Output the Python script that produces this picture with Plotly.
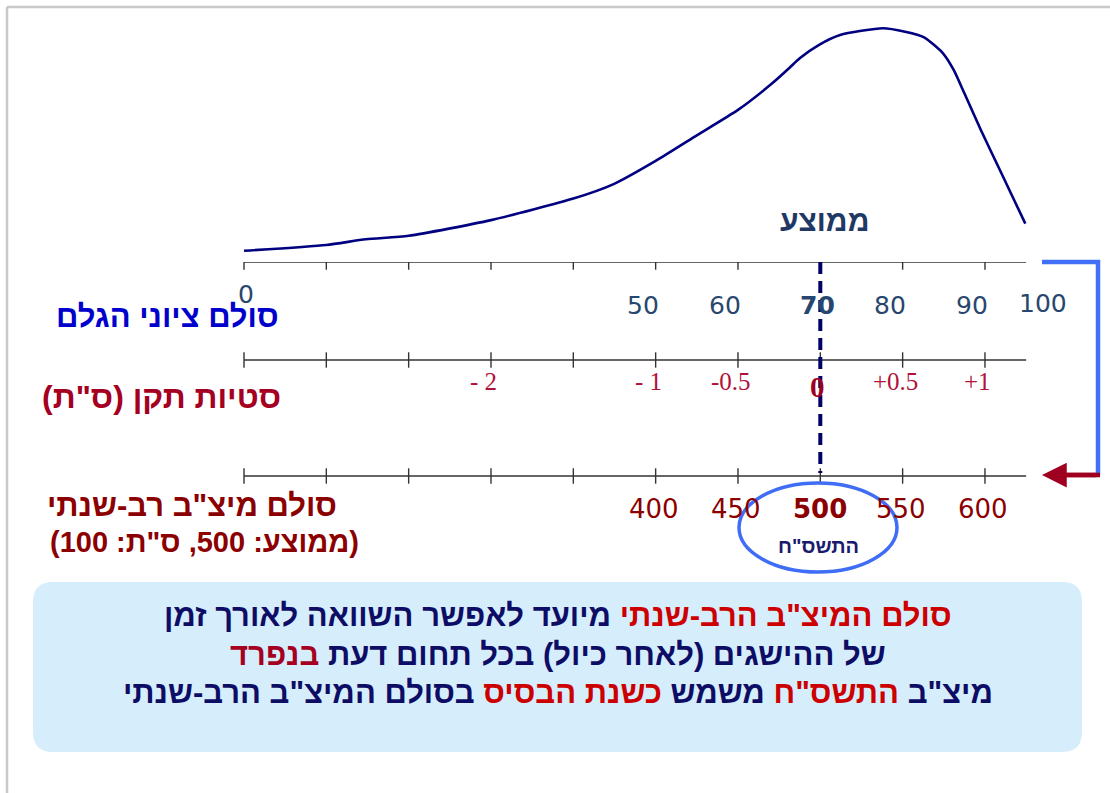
import plotly.graph_objects as go

W, H = 1110, 793

# ---------------- data ----------------
# position along the diagram's scale (tick index) and relative frequency of the score distribution
curve_pos = [0, 1.0, 1.48, 2.0, 3.0, 4.0, 4.49, 5.0, 5.47, 6.0, 6.39, 6.62, 6.75, 6.98,
             7.24, 7.76, 8.03, 8.26, 8.49, 8.62, 8.75, 8.95, 9.21, 9.49]
curve_freq = [0.048, 0.073, 0.097, 0.112, 0.179, 0.271, 0.333, 0.432, 0.535, 0.650, 0.756,
              0.828, 0.871, 0.927, 0.970, 0.999, 0.984, 0.960, 0.892, 0.821, 0.721, 0.564,
              0.372, 0.164]
tick_pos = [0, 1, 2, 3, 4, 5, 6, 7, 8, 9]
axis_end = 9.5
mean_pos = 7

raw_pos = [0, 5, 6, 7, 8, 9, 9.7]
raw_labels = ["0", "50", "60", "70", "80", "90", "100"]
sd_pos = [3, 5, 6, 7, 8, 9]
sd_labels = ["- 2", "- 1", "-0.5", "0", "+0.5", "+1"]
mz_pos = [5, 6, 7, 8, 9]
mz_labels = ["400", "450", "500", "550", "600"]

# ---------------- layout helpers ----------------
X_ORIGIN, X_STEP = 244, 82.33
XR = [-X_ORIGIN / X_STEP, (W - X_ORIGIN) / X_STEP]
RAW_ROW, SD_ROW, MZ_ROW = 262, 360, 476
RLM = "\u200f"


def fx(px):
    return px / W


def fy(py):
    return 1 - py / H


HEB = "Liberation Sans, DejaVu Sans, sans-serif"
NUM = "DejaVu Sans, Verdana, sans-serif"
SERIF = "Liberation Serif, Times New Roman, serif"

fig = go.Figure()

# distribution curve
fig.add_trace(go.Scatter(x=curve_pos, y=curve_freq, yaxis="y2", mode="lines",
                         line=dict(color="#000080", width=2.6, shape="spline", smoothing=0.6),
                         hoverinfo="skip"))

# three scales: lines + tick marks
for row in (RAW_ROW, SD_ROW, MZ_ROW):
    fig.add_trace(go.Scatter(x=[tick_pos[0], axis_end], y=[row, row], mode="lines",
                             line=dict(color="#333333", width=1.6), hoverinfo="skip"))
    fig.add_trace(go.Scatter(x=tick_pos, y=[row] * len(tick_pos), mode="markers",
                             marker=dict(symbol="line-ns", size=11,
                                         line=dict(color="#333333", width=1.4)),
                             hoverinfo="skip"))

# mean dashed line
fig.add_trace(go.Scatter(x=[mean_pos, mean_pos], y=[RAW_ROW, MZ_ROW - 3], mode="lines",
                         line=dict(color="#000066", width=4, dash="12px,7px"),
                         hoverinfo="skip"))

ann = []

# raw score labels
for p, lab in zip(raw_pos, raw_labels):
    if lab == "0":
        ann.append(dict(x=p, y=294, text=lab, xshift=2))
    elif lab == "100":
        ann.append(dict(x=p, y=303, text=lab))
    elif p == mean_pos:
        ann.append(dict(x=p, y=305, text="<b>" + lab + "</b>", xshift=-3))
    else:
        ann.append(dict(x=p, y=305, text=lab, xshift=-13))
for a in ann:
    a.update(font=dict(family=NUM, size=25, color="#28476E"))

# SD labels
for p, lab in zip(sd_pos, sd_labels):
    if p == mean_pos:
        ann.append(dict(x=p, y=387, text="<b>" + lab + "</b>", xshift=-3,
                        font=dict(family=SERIF, size=29, color="#A00020")))
    else:
        ann.append(dict(x=p, y=381, text=lab, xshift=-7,
                        font=dict(family=SERIF, size=25, color="#B0123A")))

# Meitzav scale labels
for p, lab in zip(mz_pos, mz_labels):
    if p == mean_pos:
        ann.append(dict(x=p, y=509, text="<b>" + lab + "</b>",
                        font=dict(family=NUM, size=26, color="#8B0000")))
    else:
        ann.append(dict(x=p, y=509, text=lab, xshift=-2,
                        font=dict(family=NUM, size=26, color="#8B0000")))

for a in ann:
    a.update(xref="x", yref="y", showarrow=False, xanchor="center", yanchor="middle")


def label(px, py, text, size, color, family=HEB):
    return dict(x=fx(px), y=fy(py), xref="paper", yref="paper", showarrow=False,
                xanchor="center", yanchor="middle",
                text=RLM + text + RLM, font=dict(family=family, size=size, color=color))


# mean label
ann.append(label(824, 220, "<b>ממוצע</b>", 30, "#1F3864"))
# left labels
ann.append(label(167, 316, "<b>סולם ציוני הגלם</b>", 31, "#0000CC"))
ann.append(label(161, 397, '<b>סטיות תקן (ס"ת)</b>', 32, "#A50021"))
ann.append(label(192, 505, '<b>סולם מיצ"ב רב-שנתי</b>', 31, "#8B0000"))
ann.append(label(204, 542, '<b>(ממוצע: 500, ס"ת: 100)</b>', 29, "#8B0000"))
# ellipse text
ann.append(label(818, 546, '<b>התשס"ח</b>', 20, "#1A1A6E"))

# box text
RED = "#CC0000"
DRED = "#A50021"
NAVY = "#0D0D66"
box_lines = [
    '<span style="color:%s">סולם המיצ"ב הרב-שנתי</span> מיועד לאפשר השוואה לאורך זמן' % RED,
    'של ההישגים (לאחר כיול) בכל תחום דעת <span style="color:%s">בנפרד</span>' % DRED,
    'מיצ"ב <span style="color:%s">התשס"ח</span> משמש <span style="color:%s">כשנת הבסיס</span> בסולם המיצ"ב הרב-שנתי' % (RED, RED),
]
for line, yy in zip(box_lines, [615, 654, 692]):
    ann.append(label(558, yy, "<b>" + line + "</b>", 31, NAVY))

# right bracket arrow head
ann.append(dict(x=fx(1042), y=fy(475), xref="paper", yref="paper", text="", showarrow=True,
                ax=56, ay=0, arrowhead=2, arrowsize=1.1, arrowwidth=4.5, arrowcolor="#A00020",
                standoff=0))

# ---------------- shapes ----------------
shapes = []
# frame borders
shapes.append(dict(type="line", xref="paper", yref="paper", x0=fx(7), y0=fy(7), x1=1, y1=fy(7),
                   line=dict(color="#C8C8C8", width=2.5)))
shapes.append(dict(type="line", xref="paper", yref="paper", x0=fx(7), y0=fy(7), x1=fx(7), y1=0,
                   line=dict(color="#C8C8C8", width=2.5)))

# rounded info box
bx0, bx1, by0, by1, r = 33, 1082, 582, 752, 20
pts = [
    ("M", bx0 + r, by0), ("L", bx1 - r, by0), ("Q", bx1, by0, bx1, by0 + r),
    ("L", bx1, by1 - r), ("Q", bx1, by1, bx1 - r, by1), ("L", bx0 + r, by1),
    ("Q", bx0, by1, bx0, by1 - r), ("L", bx0, by0 + r), ("Q", bx0, by0, bx0 + r, by0),
]
path = ""
for seg in pts:
    cmd = seg[0]
    coords = seg[1:]
    parts = []
    for i in range(0, len(coords), 2):
        parts.append("%.5f,%.5f" % (fx(coords[i]), fy(coords[i + 1])))
    path += cmd + " " + " ".join(parts) + " "
path += "Z"
shapes.append(dict(type="path", xref="paper", yref="paper", path=path,
                   fillcolor="#D6EDFC", line=dict(width=0), layer="below"))

# ellipse around 500
shapes.append(dict(type="circle", xref="paper", yref="paper", x0=fx(739), x1=fx(897),
                   y0=fy(572), y1=fy(483), line=dict(color="#3F6DF5", width=3.5)))

# blue bracket
shapes.append(dict(type="path", xref="paper", yref="paper",
                   path="M %.5f,%.5f L %.5f,%.5f L %.5f,%.5f" % (fx(1042), fy(262), fx(1098), fy(262),
                                                                  fx(1098), fy(475)),
                   line=dict(color="#4170F7", width=4.5)))
# red arrow shaft
shapes.append(dict(type="line", xref="paper", yref="paper", x0=fx(1100), y0=fy(475),
                   x1=fx(1056), y1=fy(475), line=dict(color="#A00020", width=4.5)))

fig.update_layout(
    width=W, height=H, margin=dict(l=0, r=0, t=0, b=0),
    paper_bgcolor="white", plot_bgcolor="white", showlegend=False,
    xaxis=dict(range=XR, visible=False, fixedrange=True),
    yaxis=dict(range=[H, 0], visible=False, fixedrange=True, domain=[0, 1]),
    yaxis2=dict(range=[0, RAW_ROW / 234], visible=False, fixedrange=True,
                domain=[fy(RAW_ROW), 1], anchor="x"),
    annotations=ann, shapes=shapes,
)

fig.write_html("out.html", config={"displayModeBar": False},
               post_script="document.body.style.margin='0';")
